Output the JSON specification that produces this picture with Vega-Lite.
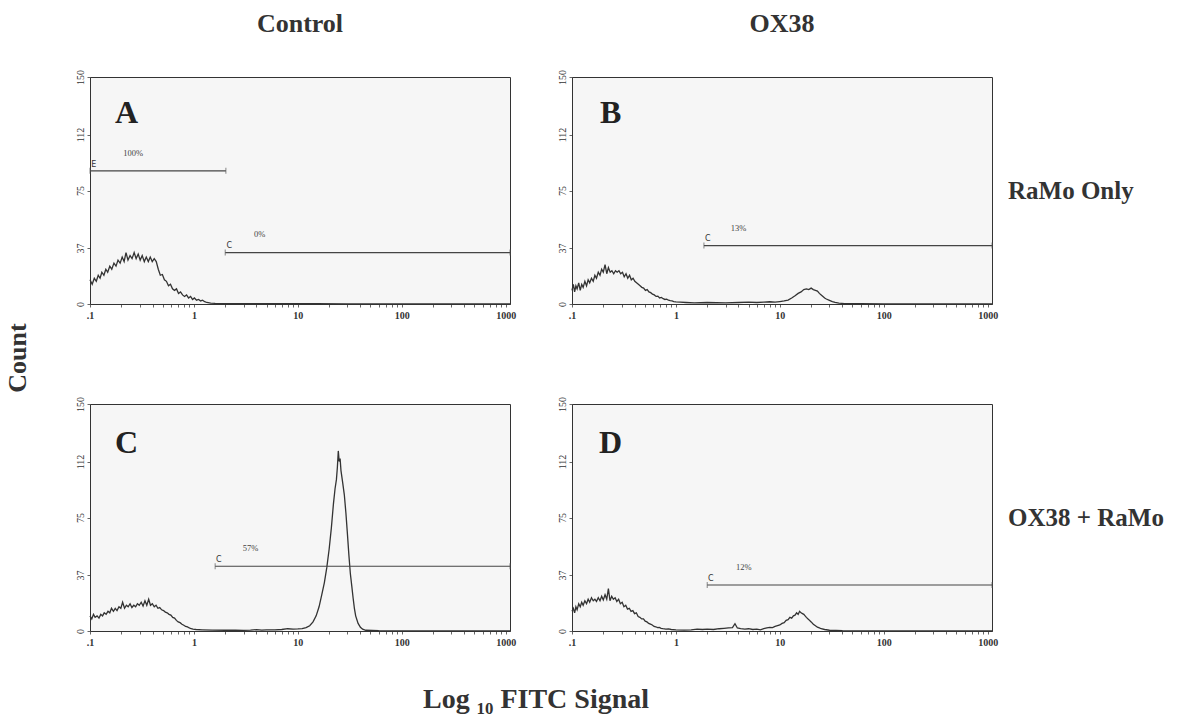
{
  "$schema": "https://vega.github.io/schema/vega-lite/v6.json",
  "background": "white",
  "padding": {"left": 5, "top": 11, "right": 5, "bottom": 2},
  "datasets": {
    "panels": [
      {"p": "A", "row": "RaMo Only", "col": "Control"},
      {"p": "B", "row": "RaMo Only", "col": "OX38"},
      {"p": "C", "row": "OX38 + RaMo", "col": "Control"},
      {"p": "D", "row": "OX38 + RaMo", "col": "OX38"}
    ],
    "rows": [
      {"p":"A","k":"c","x":0.100,"y":16},{"p":"A","k":"c","x":0.105,"y":13},{"p":"A","k":"c","x":0.110,"y":17},{"p":"A","k":"c","x":0.115,"y":15},{"p":"A","k":"c","x":0.120,"y":19},{"p":"A","k":"c","x":0.125,"y":17},{"p":"A","k":"c","x":0.130,"y":21},{"p":"A","k":"c","x":0.136,"y":19},{"p":"A","k":"c","x":0.142,"y":23},{"p":"A","k":"c","x":0.148,"y":21},{"p":"A","k":"c","x":0.155,"y":25},{"p":"A","k":"c","x":0.162,"y":23},{"p":"A","k":"c","x":0.170,"y":27},{"p":"A","k":"c","x":0.178,"y":25},{"p":"A","k":"c","x":0.186,"y":29},{"p":"A","k":"c","x":0.195,"y":27},{"p":"A","k":"c","x":0.204,"y":31},{"p":"A","k":"c","x":0.213,"y":28},{"p":"A","k":"c","x":0.222,"y":34},{"p":"A","k":"c","x":0.232,"y":29},{"p":"A","k":"c","x":0.243,"y":32},{"p":"A","k":"c","x":0.254,"y":30},{"p":"A","k":"c","x":0.266,"y":34},{"p":"A","k":"c","x":0.278,"y":30},{"p":"A","k":"c","x":0.291,"y":33},{"p":"A","k":"c","x":0.304,"y":29},{"p":"A","k":"c","x":0.318,"y":32},{"p":"A","k":"c","x":0.333,"y":28},{"p":"A","k":"c","x":0.348,"y":31},{"p":"A","k":"c","x":0.364,"y":28},{"p":"A","k":"c","x":0.380,"y":31},{"p":"A","k":"c","x":0.397,"y":28},{"p":"A","k":"c","x":0.415,"y":30},{"p":"A","k":"c","x":0.434,"y":28},{"p":"A","k":"c","x":0.454,"y":23},{"p":"A","k":"c","x":0.475,"y":19},{"p":"A","k":"c","x":0.497,"y":19.5},{"p":"A","k":"c","x":0.520,"y":16},{"p":"A","k":"c","x":0.544,"y":15},{"p":"A","k":"c","x":0.569,"y":12},{"p":"A","k":"c","x":0.595,"y":13},{"p":"A","k":"c","x":0.622,"y":10},{"p":"A","k":"c","x":0.650,"y":9},{"p":"A","k":"c","x":0.680,"y":10},{"p":"A","k":"c","x":0.711,"y":7},{"p":"A","k":"c","x":0.743,"y":8},{"p":"A","k":"c","x":0.777,"y":6},{"p":"A","k":"c","x":0.812,"y":5},{"p":"A","k":"c","x":0.849,"y":6},{"p":"A","k":"c","x":0.888,"y":4},{"p":"A","k":"c","x":0.928,"y":5},{"p":"A","k":"c","x":0.970,"y":3},{"p":"A","k":"c","x":1.01,"y":4},{"p":"A","k":"c","x":1.06,"y":2.5},{"p":"A","k":"c","x":1.11,"y":3},{"p":"A","k":"c","x":1.16,"y":2},{"p":"A","k":"c","x":1.21,"y":2.5},{"p":"A","k":"c","x":1.27,"y":1.5},{"p":"A","k":"c","x":1.33,"y":1},{"p":"A","k":"c","x":1.45,"y":0.6},{"p":"A","k":"c","x":1.6,"y":0.4},{"p":"A","k":"c","x":2,"y":0.3},{"p":"A","k":"c","x":3,"y":0.2},{"p":"A","k":"c","x":5,"y":0.3},{"p":"A","k":"c","x":8,"y":0.2},{"p":"A","k":"c","x":15,"y":0.2},{"p":"A","k":"c","x":30,"y":0.1},{"p":"A","k":"c","x":100,"y":0.1},{"p":"A","k":"c","x":1100,"y":0.1},

      {"p":"B","k":"c","x":0.100,"y":9},{"p":"B","k":"c","x":0.103,"y":13},{"p":"B","k":"c","x":0.106,"y":8},{"p":"B","k":"c","x":0.109,"y":12},{"p":"B","k":"c","x":0.112,"y":10},{"p":"B","k":"c","x":0.116,"y":14},{"p":"B","k":"c","x":0.120,"y":9},{"p":"B","k":"c","x":0.124,"y":13},{"p":"B","k":"c","x":0.128,"y":11},{"p":"B","k":"c","x":0.133,"y":15},{"p":"B","k":"c","x":0.138,"y":12},{"p":"B","k":"c","x":0.143,"y":16},{"p":"B","k":"c","x":0.148,"y":14},{"p":"B","k":"c","x":0.154,"y":17},{"p":"B","k":"c","x":0.160,"y":15},{"p":"B","k":"c","x":0.166,"y":19},{"p":"B","k":"c","x":0.172,"y":17},{"p":"B","k":"c","x":0.179,"y":21},{"p":"B","k":"c","x":0.186,"y":19},{"p":"B","k":"c","x":0.193,"y":23},{"p":"B","k":"c","x":0.200,"y":21},{"p":"B","k":"c","x":0.208,"y":26},{"p":"B","k":"c","x":0.216,"y":20},{"p":"B","k":"c","x":0.224,"y":24},{"p":"B","k":"c","x":0.233,"y":21},{"p":"B","k":"c","x":0.242,"y":22},{"p":"B","k":"c","x":0.252,"y":20},{"p":"B","k":"c","x":0.262,"y":22},{"p":"B","k":"c","x":0.272,"y":21},{"p":"B","k":"c","x":0.283,"y":22},{"p":"B","k":"c","x":0.294,"y":20},{"p":"B","k":"c","x":0.306,"y":21},{"p":"B","k":"c","x":0.318,"y":18},{"p":"B","k":"c","x":0.331,"y":20},{"p":"B","k":"c","x":0.344,"y":17},{"p":"B","k":"c","x":0.358,"y":19},{"p":"B","k":"c","x":0.372,"y":16},{"p":"B","k":"c","x":0.387,"y":17},{"p":"B","k":"c","x":0.402,"y":15},{"p":"B","k":"c","x":0.418,"y":14},{"p":"B","k":"c","x":0.435,"y":13},{"p":"B","k":"c","x":0.452,"y":12},{"p":"B","k":"c","x":0.470,"y":11},{"p":"B","k":"c","x":0.489,"y":10.5},{"p":"B","k":"c","x":0.509,"y":9},{"p":"B","k":"c","x":0.529,"y":9.5},{"p":"B","k":"c","x":0.550,"y":8},{"p":"B","k":"c","x":0.572,"y":7.5},{"p":"B","k":"c","x":0.595,"y":6.5},{"p":"B","k":"c","x":0.619,"y":6},{"p":"B","k":"c","x":0.644,"y":5},{"p":"B","k":"c","x":0.670,"y":5.2},{"p":"B","k":"c","x":0.697,"y":4},{"p":"B","k":"c","x":0.725,"y":4.3},{"p":"B","k":"c","x":0.754,"y":3.5},{"p":"B","k":"c","x":0.784,"y":3},{"p":"B","k":"c","x":0.815,"y":3.2},{"p":"B","k":"c","x":0.848,"y":2.5},{"p":"B","k":"c","x":0.882,"y":2.2},{"p":"B","k":"c","x":0.917,"y":2},{"p":"B","k":"c","x":0.954,"y":1.6},{"p":"B","k":"c","x":1.0,"y":1.4},{"p":"B","k":"c","x":1.1,"y":1.2},{"p":"B","k":"c","x":1.25,"y":1},{"p":"B","k":"c","x":1.5,"y":0.8},{"p":"B","k":"c","x":2,"y":1},{"p":"B","k":"c","x":3,"y":0.8},{"p":"B","k":"c","x":4,"y":1},{"p":"B","k":"c","x":5,"y":1.2},{"p":"B","k":"c","x":6,"y":1},{"p":"B","k":"c","x":7,"y":1.3},{"p":"B","k":"c","x":8,"y":1.5},{"p":"B","k":"c","x":9,"y":1.2},{"p":"B","k":"c","x":10,"y":1.6},{"p":"B","k":"c","x":11,"y":2},{"p":"B","k":"c","x":12,"y":2.6},{"p":"B","k":"c","x":13,"y":4},{"p":"B","k":"c","x":14,"y":5.5},{"p":"B","k":"c","x":15,"y":7},{"p":"B","k":"c","x":16,"y":8},{"p":"B","k":"c","x":17,"y":9.5},{"p":"B","k":"c","x":18,"y":10},{"p":"B","k":"c","x":19,"y":9.5},{"p":"B","k":"c","x":20,"y":10.5},{"p":"B","k":"c","x":21,"y":9.5},{"p":"B","k":"c","x":22,"y":9},{"p":"B","k":"c","x":23,"y":8.5},{"p":"B","k":"c","x":24,"y":7},{"p":"B","k":"c","x":25,"y":6},{"p":"B","k":"c","x":26,"y":5},{"p":"B","k":"c","x":27,"y":4},{"p":"B","k":"c","x":28,"y":3.3},{"p":"B","k":"c","x":30,"y":2.4},{"p":"B","k":"c","x":32,"y":1.6},{"p":"B","k":"c","x":34,"y":1},{"p":"B","k":"c","x":37,"y":0.6},{"p":"B","k":"c","x":42,"y":0.3},{"p":"B","k":"c","x":60,"y":0.2},{"p":"B","k":"c","x":100,"y":0.1},{"p":"B","k":"c","x":1100,"y":0.1},

      {"p":"C","k":"c","x":0.100,"y":10},{"p":"C","k":"c","x":0.104,"y":8},{"p":"C","k":"c","x":0.108,"y":11},{"p":"C","k":"c","x":0.112,"y":9},{"p":"C","k":"c","x":0.117,"y":10},{"p":"C","k":"c","x":0.122,"y":8.5},{"p":"C","k":"c","x":0.127,"y":11},{"p":"C","k":"c","x":0.132,"y":10},{"p":"C","k":"c","x":0.137,"y":12},{"p":"C","k":"c","x":0.143,"y":11},{"p":"C","k":"c","x":0.149,"y":13},{"p":"C","k":"c","x":0.155,"y":12},{"p":"C","k":"c","x":0.161,"y":15},{"p":"C","k":"c","x":0.168,"y":13},{"p":"C","k":"c","x":0.175,"y":15},{"p":"C","k":"c","x":0.182,"y":13.5},{"p":"C","k":"c","x":0.190,"y":16},{"p":"C","k":"c","x":0.198,"y":15},{"p":"C","k":"c","x":0.206,"y":19},{"p":"C","k":"c","x":0.215,"y":15},{"p":"C","k":"c","x":0.224,"y":17},{"p":"C","k":"c","x":0.233,"y":16},{"p":"C","k":"c","x":0.243,"y":18},{"p":"C","k":"c","x":0.253,"y":15.5},{"p":"C","k":"c","x":0.264,"y":17},{"p":"C","k":"c","x":0.275,"y":16},{"p":"C","k":"c","x":0.286,"y":18},{"p":"C","k":"c","x":0.298,"y":17},{"p":"C","k":"c","x":0.311,"y":19},{"p":"C","k":"c","x":0.324,"y":16.5},{"p":"C","k":"c","x":0.338,"y":20},{"p":"C","k":"c","x":0.352,"y":17},{"p":"C","k":"c","x":0.367,"y":21},{"p":"C","k":"c","x":0.382,"y":17},{"p":"C","k":"c","x":0.398,"y":18},{"p":"C","k":"c","x":0.415,"y":16},{"p":"C","k":"c","x":0.432,"y":17},{"p":"C","k":"c","x":0.450,"y":15},{"p":"C","k":"c","x":0.469,"y":15.5},{"p":"C","k":"c","x":0.489,"y":14},{"p":"C","k":"c","x":0.510,"y":13.5},{"p":"C","k":"c","x":0.531,"y":12.5},{"p":"C","k":"c","x":0.553,"y":12},{"p":"C","k":"c","x":0.576,"y":11},{"p":"C","k":"c","x":0.600,"y":10.5},{"p":"C","k":"c","x":0.625,"y":9},{"p":"C","k":"c","x":0.651,"y":8.5},{"p":"C","k":"c","x":0.678,"y":7},{"p":"C","k":"c","x":0.706,"y":6},{"p":"C","k":"c","x":0.736,"y":5.5},{"p":"C","k":"c","x":0.767,"y":4.5},{"p":"C","k":"c","x":0.799,"y":3.8},{"p":"C","k":"c","x":0.832,"y":3},{"p":"C","k":"c","x":0.867,"y":2.7},{"p":"C","k":"c","x":0.903,"y":2},{"p":"C","k":"c","x":0.941,"y":1.5},{"p":"C","k":"c","x":0.98,"y":1.2},{"p":"C","k":"c","x":1.05,"y":1},{"p":"C","k":"c","x":1.2,"y":0.8},{"p":"C","k":"c","x":1.5,"y":0.6},{"p":"C","k":"c","x":2,"y":0.5},{"p":"C","k":"c","x":2.5,"y":0.6},{"p":"C","k":"c","x":3,"y":0.4},{"p":"C","k":"c","x":3.5,"y":0.6},{"p":"C","k":"c","x":4,"y":0.9},{"p":"C","k":"c","x":4.5,"y":0.6},{"p":"C","k":"c","x":5,"y":0.7},{"p":"C","k":"c","x":6,"y":0.8},{"p":"C","k":"c","x":7,"y":1},{"p":"C","k":"c","x":8,"y":1.5},{"p":"C","k":"c","x":9,"y":1.3},{"p":"C","k":"c","x":10,"y":1.4},{"p":"C","k":"c","x":11,"y":1.6},{"p":"C","k":"c","x":12,"y":2.2},{"p":"C","k":"c","x":13,"y":3.5},{"p":"C","k":"c","x":14,"y":6},{"p":"C","k":"c","x":15,"y":10},{"p":"C","k":"c","x":16,"y":16},{"p":"C","k":"c","x":17,"y":24},{"p":"C","k":"c","x":18,"y":32},{"p":"C","k":"c","x":19,"y":42},{"p":"C","k":"c","x":20,"y":54},{"p":"C","k":"c","x":21,"y":68},{"p":"C","k":"c","x":22,"y":84},{"p":"C","k":"c","x":22.8,"y":94},{"p":"C","k":"c","x":23.5,"y":100},{"p":"C","k":"c","x":24,"y":108},{"p":"C","k":"c","x":24.5,"y":119},{"p":"C","k":"c","x":25,"y":112},{"p":"C","k":"c","x":25.5,"y":114},{"p":"C","k":"c","x":26,"y":106},{"p":"C","k":"c","x":27,"y":98},{"p":"C","k":"c","x":28,"y":90},{"p":"C","k":"c","x":29,"y":78},{"p":"C","k":"c","x":30,"y":64},{"p":"C","k":"c","x":31,"y":50},{"p":"C","k":"c","x":32,"y":38},{"p":"C","k":"c","x":33,"y":30},{"p":"C","k":"c","x":34,"y":22},{"p":"C","k":"c","x":35,"y":15},{"p":"C","k":"c","x":36,"y":10},{"p":"C","k":"c","x":38,"y":5},{"p":"C","k":"c","x":40,"y":2.5},{"p":"C","k":"c","x":42,"y":1.2},{"p":"C","k":"c","x":45,"y":0.5},{"p":"C","k":"c","x":60,"y":0.2},{"p":"C","k":"c","x":100,"y":0.1},{"p":"C","k":"c","x":1100,"y":0.1},

      {"p":"D","k":"c","x":0.100,"y":13},{"p":"D","k":"c","x":0.103,"y":15},{"p":"D","k":"c","x":0.106,"y":12},{"p":"D","k":"c","x":0.109,"y":16},{"p":"D","k":"c","x":0.112,"y":14},{"p":"D","k":"c","x":0.116,"y":18},{"p":"D","k":"c","x":0.120,"y":16},{"p":"D","k":"c","x":0.124,"y":19},{"p":"D","k":"c","x":0.128,"y":17},{"p":"D","k":"c","x":0.133,"y":20},{"p":"D","k":"c","x":0.138,"y":18},{"p":"D","k":"c","x":0.143,"y":21},{"p":"D","k":"c","x":0.148,"y":19},{"p":"D","k":"c","x":0.154,"y":22},{"p":"D","k":"c","x":0.160,"y":20},{"p":"D","k":"c","x":0.166,"y":21},{"p":"D","k":"c","x":0.172,"y":19.5},{"p":"D","k":"c","x":0.179,"y":22},{"p":"D","k":"c","x":0.186,"y":20},{"p":"D","k":"c","x":0.193,"y":23},{"p":"D","k":"c","x":0.200,"y":20.5},{"p":"D","k":"c","x":0.208,"y":24},{"p":"D","k":"c","x":0.216,"y":21},{"p":"D","k":"c","x":0.224,"y":28},{"p":"D","k":"c","x":0.232,"y":20},{"p":"D","k":"c","x":0.241,"y":23},{"p":"D","k":"c","x":0.250,"y":21},{"p":"D","k":"c","x":0.260,"y":22},{"p":"D","k":"c","x":0.270,"y":19.5},{"p":"D","k":"c","x":0.281,"y":21},{"p":"D","k":"c","x":0.292,"y":18},{"p":"D","k":"c","x":0.304,"y":19},{"p":"D","k":"c","x":0.316,"y":16},{"p":"D","k":"c","x":0.329,"y":17},{"p":"D","k":"c","x":0.342,"y":14.5},{"p":"D","k":"c","x":0.356,"y":15},{"p":"D","k":"c","x":0.370,"y":13},{"p":"D","k":"c","x":0.385,"y":13.5},{"p":"D","k":"c","x":0.400,"y":11.5},{"p":"D","k":"c","x":0.416,"y":12},{"p":"D","k":"c","x":0.433,"y":9.5},{"p":"D","k":"c","x":0.450,"y":9},{"p":"D","k":"c","x":0.468,"y":8},{"p":"D","k":"c","x":0.487,"y":8},{"p":"D","k":"c","x":0.506,"y":6.5},{"p":"D","k":"c","x":0.526,"y":6},{"p":"D","k":"c","x":0.547,"y":5},{"p":"D","k":"c","x":0.569,"y":4.5},{"p":"D","k":"c","x":0.592,"y":4},{"p":"D","k":"c","x":0.616,"y":3},{"p":"D","k":"c","x":0.640,"y":2.8},{"p":"D","k":"c","x":0.666,"y":2.2},{"p":"D","k":"c","x":0.693,"y":2.4},{"p":"D","k":"c","x":0.72,"y":1.8},{"p":"D","k":"c","x":0.75,"y":1.5},{"p":"D","k":"c","x":0.8,"y":1.2},{"p":"D","k":"c","x":0.85,"y":1.4},{"p":"D","k":"c","x":0.9,"y":1},{"p":"D","k":"c","x":1.0,"y":0.8},{"p":"D","k":"c","x":1.2,"y":0.6},{"p":"D","k":"c","x":1.4,"y":0.8},{"p":"D","k":"c","x":1.6,"y":1.2},{"p":"D","k":"c","x":1.8,"y":1},{"p":"D","k":"c","x":2,"y":1.3},{"p":"D","k":"c","x":2.3,"y":1},{"p":"D","k":"c","x":2.6,"y":1.5},{"p":"D","k":"c","x":2.9,"y":1.8},{"p":"D","k":"c","x":3.2,"y":2},{"p":"D","k":"c","x":3.5,"y":2.2},{"p":"D","k":"c","x":3.7,"y":4.8},{"p":"D","k":"c","x":3.9,"y":2},{"p":"D","k":"c","x":4.2,"y":1.6},{"p":"D","k":"c","x":4.6,"y":1.2},{"p":"D","k":"c","x":5,"y":1.5},{"p":"D","k":"c","x":5.5,"y":1},{"p":"D","k":"c","x":6,"y":1.2},{"p":"D","k":"c","x":6.5,"y":0.8},{"p":"D","k":"c","x":7,"y":1.5},{"p":"D","k":"c","x":7.5,"y":2},{"p":"D","k":"c","x":8,"y":2.4},{"p":"D","k":"c","x":8.5,"y":2.2},{"p":"D","k":"c","x":9,"y":3},{"p":"D","k":"c","x":9.5,"y":3.5},{"p":"D","k":"c","x":10,"y":4},{"p":"D","k":"c","x":10.5,"y":5},{"p":"D","k":"c","x":11,"y":5.5},{"p":"D","k":"c","x":11.5,"y":7},{"p":"D","k":"c","x":12,"y":7.5},{"p":"D","k":"c","x":12.5,"y":9},{"p":"D","k":"c","x":13,"y":8.5},{"p":"D","k":"c","x":13.5,"y":10},{"p":"D","k":"c","x":14,"y":10.5},{"p":"D","k":"c","x":14.5,"y":12},{"p":"D","k":"c","x":15,"y":11},{"p":"D","k":"c","x":15.5,"y":13},{"p":"D","k":"c","x":16,"y":12},{"p":"D","k":"c","x":16.5,"y":11.5},{"p":"D","k":"c","x":17,"y":11},{"p":"D","k":"c","x":17.5,"y":10},{"p":"D","k":"c","x":18,"y":9},{"p":"D","k":"c","x":19,"y":7.5},{"p":"D","k":"c","x":20,"y":6},{"p":"D","k":"c","x":21,"y":4.5},{"p":"D","k":"c","x":22,"y":3.5},{"p":"D","k":"c","x":23,"y":2.5},{"p":"D","k":"c","x":24,"y":2},{"p":"D","k":"c","x":25,"y":1.5},{"p":"D","k":"c","x":27,"y":1},{"p":"D","k":"c","x":30,"y":0.5},{"p":"D","k":"c","x":40,"y":0.2},{"p":"D","k":"c","x":100,"y":0.1},{"p":"D","k":"c","x":1100,"y":0.1},

      {"p":"A","k":"g","x":0.1,"x2":2.03,"y":88},
      {"p":"A","k":"g","x":2.0,"x2":1100,"y":34},
      {"p":"B","k":"g","x":1.86,"x2":1100,"y":38.6},
      {"p":"C","k":"g","x":1.6,"x2":1100,"y":42.8},
      {"p":"D","k":"g","x":2.0,"x2":1100,"y":30.4},

      {"p":"A","k":"e","x":0.1,"y":88},{"p":"A","k":"e","x":2.03,"y":88},
      {"p":"A","k":"e","x":2.0,"y":34},{"p":"A","k":"e","x":1100,"y":34},
      {"p":"B","k":"e","x":1.86,"y":38.6},{"p":"B","k":"e","x":1100,"y":38.6},
      {"p":"C","k":"e","x":1.6,"y":42.8},{"p":"C","k":"e","x":1100,"y":42.8},
      {"p":"D","k":"e","x":2.0,"y":30.4},{"p":"D","k":"e","x":1100,"y":30.4},

      {"p":"A","k":"n","x":0.103,"y":89.5,"t":"E"},
      {"p":"A","k":"n","x":2.06,"y":35.5,"t":"C"},
      {"p":"B","k":"n","x":1.9,"y":40,"t":"C"},
      {"p":"C","k":"n","x":1.63,"y":44.3,"t":"C"},
      {"p":"D","k":"n","x":2.04,"y":32,"t":"C"},

      {"p":"A","k":"q","x":0.26,"y":100,"t":"100%"},
      {"p":"A","k":"q","x":4.3,"y":46,"t":"0%"},
      {"p":"B","k":"q","x":4.0,"y":50.5,"t":"13%"},
      {"p":"C","k":"q","x":3.5,"y":55,"t":"57%"},
      {"p":"D","k":"q","x":4.5,"y":42,"t":"12%"},

      {"p":"A","k":"L","x":0.225,"y":126,"t":"A"},
      {"p":"B","k":"L","x":0.235,"y":126,"t":"B"},
      {"p":"C","k":"L","x":0.225,"y":124,"t":"C"},
      {"p":"D","k":"L","x":0.235,"y":124,"t":"D"}
    ]
  },
  "data": {"name": "rows"},
  "transform": [
    {"lookup": "p", "from": {"data": {"name": "panels"}, "key": "p", "fields": ["row", "col"]}}
  ],
  "facet": {
    "column": {
      "field": "col", "type": "nominal", "sort": ["Control", "OX38"],
      "title": "Log ₁₀   FITC Signal",
      "header": {
        "labelOrient": "top", "labelFont": "Liberation Serif", "labelFontSize": 26, "labelFontWeight": "bold", "labelColor": "#333", "labelPadding": 32,
        "titleOrient": "bottom", "titleFont": "Liberation Serif", "titleFontSize": 28, "titleFontWeight": "bold", "titleColor": "#333", "titlePadding": 28
      }
    },
    "row": {
      "field": "row", "type": "nominal", "sort": ["RaMo Only", "OX38 + RaMo"],
      "title": "Count",
      "header": {
        "labelOrient": "right", "labelAngle": 0, "labelFont": "Liberation Serif", "labelFontSize": 25, "labelFontWeight": "bold", "labelColor": "#333", "labelPadding": 9,
        "titleOrient": "left", "titleFont": "Liberation Serif", "titleFontSize": 26, "titleFontWeight": "bold", "titleColor": "#333", "titlePadding": 33
      }
    }
  },
  "spacing": {"column": 39, "row": 75},
  "resolve": {"axis": {"x": "independent", "y": "independent"}},
  "spec": {
    "width": 420,
    "height": 227,
    "encoding": {
      "x": {
        "field": "x", "type": "quantitative",
        "scale": {"type": "log", "domain": [0.1, 1100], "nice": false, "clamp": true},
        "axis": {
          "title": null, "grid": false,
          "values": [0.1,0.2,0.3,0.4,0.5,0.6,0.7,0.8,0.9,1,2,3,4,5,6,7,8,9,10,20,30,40,50,60,70,80,90,100,200,300,400,500,600,700,800,900,1000],
          "labelExpr": "datum.value == 0.1 ? '.1' : datum.value == 1 ? '1' : datum.value == 10 ? '10' : datum.value == 100 ? '100' : datum.value == 1000 ? '1000' : ''",
          "labelOverlap": false, "labelFlush": false, "tickSize": 3, "labelPadding": 3,
          "labelFont": "Liberation Serif", "labelFontSize": 10, "labelFontWeight": "bold", "labelColor": "#333",
          "domainColor": "#333", "tickColor": "#666"
        }
      },
      "y": {
        "field": "y", "type": "quantitative",
        "scale": {"domain": [0, 150], "nice": false},
        "axis": {
          "title": null, "grid": false, "values": [0, 37, 75, 112, 150],
          "labelAngle": -90, "labelAlign": "center", "labelBaseline": "bottom",
          "tickSize": 3, "labelPadding": 2,
          "labelFont": "Liberation Serif", "labelFontSize": 10, "labelColor": "#333",
          "domainColor": "#333", "tickColor": "#666"
        }
      }
    },
    "layer": [
      {
        "transform": [{"filter": "datum.k == 'c'"}],
        "mark": {"type": "line", "color": "#333", "strokeWidth": 1.3, "interpolate": "linear"},
        "encoding": {"order": {"field": "x", "type": "quantitative"}}
      },
      {
        "transform": [{"filter": "datum.k == 'g'"}],
        "mark": {"type": "rule", "color": "#444", "strokeWidth": 1.2},
        "encoding": {"x2": {"field": "x2"}}
      },
      {
        "transform": [{"filter": "datum.k == 'e'"}],
        "mark": {"type": "tick", "orient": "vertical", "size": 6, "thickness": 1, "color": "#555"},
        "encoding": {}
      },
      {
        "transform": [{"filter": "datum.k == 'n'"}],
        "mark": {"type": "text", "font": "DejaVu Sans", "fontSize": 8, "align": "left", "baseline": "bottom", "color": "#333"},
        "encoding": {"text": {"field": "t"}}
      },
      {
        "transform": [{"filter": "datum.k == 'q'"}],
        "mark": {"type": "text", "font": "Liberation Serif", "fontSize": 8.5, "align": "center", "baseline": "middle", "color": "#444"},
        "encoding": {"text": {"field": "t"}}
      },
      {
        "transform": [{"filter": "datum.k == 'L'"}],
        "mark": {"type": "text", "font": "Liberation Serif", "fontSize": 32, "fontWeight": "bold", "align": "center", "baseline": "middle", "color": "#222"},
        "encoding": {"text": {"field": "t"}}
      }
    ]
  },
  "config": {
    "view": {"stroke": "#333", "strokeWidth": 1, "fill": "#f6f6f6"},
    "font": "Liberation Serif"
  }
}
